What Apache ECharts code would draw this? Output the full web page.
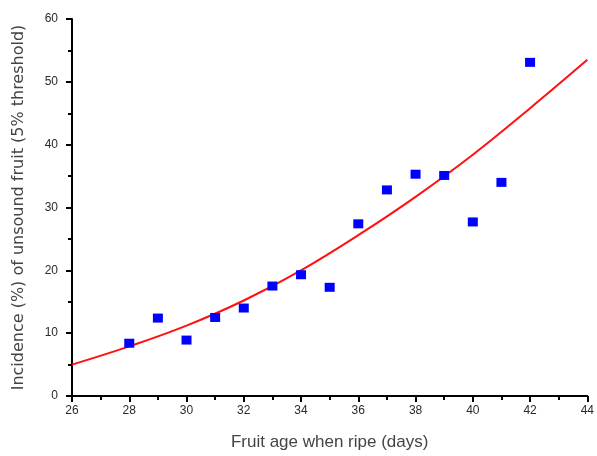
<!DOCTYPE html>
<html>
<head>
<meta charset="utf-8">
<script src="https://cdn.jsdelivr.net/npm/echarts@6/dist/echarts.min.js"></script>
<style>
  html, body { margin: 0; padding: 0; background: #fff; }
  #chart { width: 597px; height: 456px; }
</style>
</head>
<body>
<div id="chart"></div>
<script>
// Observed incidence of unsound fruit by fruit age at ripening
const ageDays = [28, 29, 30, 31, 32, 33, 34, 35, 36, 37, 38, 39, 40, 41, 42];
const incidence = [8.4, 12.4, 8.9, 12.5, 14.0, 17.5, 19.3, 17.3, 27.4, 32.8, 35.3, 35.1, 27.7, 34.0, 53.1];

// Fitted trend curve, sampled every two days
const fitAge = [26, 28, 30, 32, 34, 36, 38, 40, 42, 44];
const fitIncidence = [5.0, 7.9, 11.2, 15.2, 20.0, 25.6, 31.7, 38.4, 45.8, 53.5];

const textColor = '#444';
const tickColor = '#2a2a2a';
const axisColor = '#000';

const chart = echarts.init(document.getElementById('chart'));
chart.setOption({
  animation: false,
  backgroundColor: '#fff',
  grid: { left: 72, right: 8, top: 19, bottom: 60 },
  xAxis: {
    type: 'value',
    min: 26, max: 44, interval: 2,
    name: 'Fruit age when ripe (days)',
    nameLocation: 'middle',
    nameGap: 38,
    nameTextStyle: { fontFamily: 'Liberation Sans', fontSize: 17, color: textColor },
    axisLine: { lineStyle: { color: axisColor, width: 2 } },
    axisTick: { inside: false, length: 6, lineStyle: { color: axisColor, width: 2 } },
    minorTick: { show: true, splitNumber: 2, length: 4, lineStyle: { color: axisColor, width: 2 } },
    axisLabel: { fontFamily: 'Liberation Sans', fontSize: 12, color: tickColor, margin: 9 },
    splitLine: { show: false }
  },
  yAxis: {
    type: 'value',
    min: 0, max: 60, interval: 10,
    name: 'Incidence (%) of unsound fruit (5% threshold)',
    nameLocation: 'middle',
    nameGap: 45,
    nameRotate: 90,
    nameTextStyle: { fontFamily: 'DejaVu Sans', fontSize: 16, color: textColor },
    axisLine: { show: true, lineStyle: { color: axisColor, width: 2 } },
    axisTick: { show: true, inside: false, length: 6, lineStyle: { color: axisColor, width: 2 } },
    minorTick: { show: true, splitNumber: 2, length: 4, lineStyle: { color: axisColor, width: 2 } },
    axisLabel: { fontFamily: 'Liberation Sans', fontSize: 12, color: tickColor, margin: 14 },
    splitLine: { show: false }
  },
  series: [
    {
      type: 'line',
      data: fitAge.map((a, i) => [a, fitIncidence[i]]),
      smooth: 0.4,
      showSymbol: false,
      lineStyle: { color: '#ff1010', width: 2 },
      z: 2
    },
    {
      type: 'scatter',
      data: ageDays.map((a, i) => [a, incidence[i]]),
      symbol: 'rect',
      symbolSize: [10, 9],
      itemStyle: { color: '#0000ff', opacity: 1 },
      z: 3
    }
  ]
});
</script>
</body>
</html>
